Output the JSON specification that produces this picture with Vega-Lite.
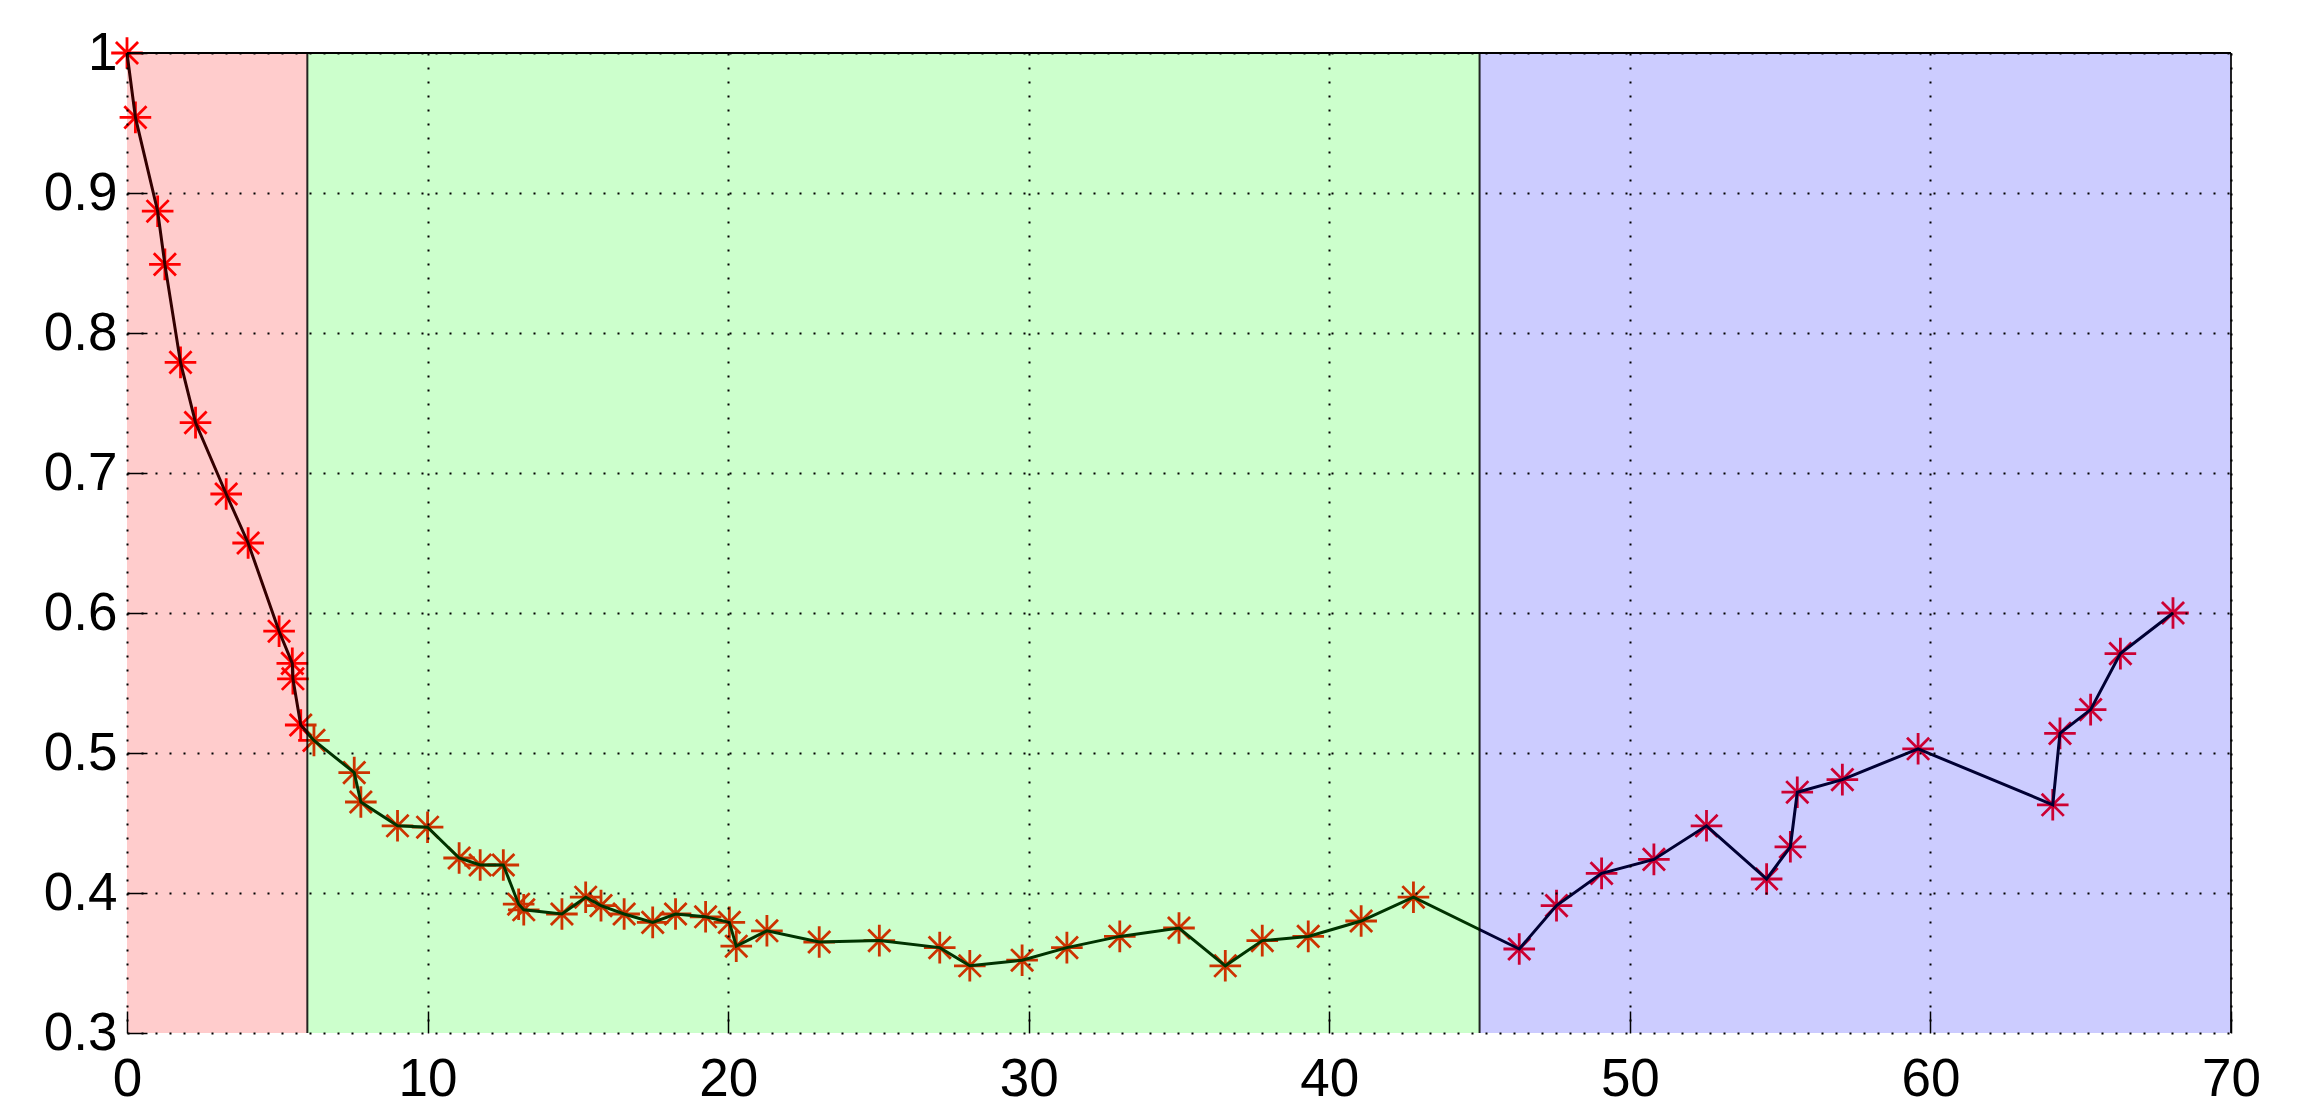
{
  "$schema": "https://vega.github.io/schema/vega-lite/v6.json",
  "width": 2104,
  "height": 980,
  "autosize": {"type": "none"},
  "padding": {"left": 127, "top": 53, "right": 93, "bottom": 75},
  "background": "white",
  "config": {"view": {"stroke": null}},
  "datasets": {
    "pts": [
      {"x": 0, "y": 1.0}, {"x": 0.28, "y": 0.954}, {"x": 1.02, "y": 0.887}, {"x": 1.26, "y": 0.849},
      {"x": 1.78, "y": 0.779}, {"x": 2.28, "y": 0.736}, {"x": 3.3, "y": 0.685}, {"x": 4.03, "y": 0.65},
      {"x": 5.06, "y": 0.587}, {"x": 5.5, "y": 0.564}, {"x": 5.52, "y": 0.553}, {"x": 5.78, "y": 0.52},
      {"x": 6.22, "y": 0.509}, {"x": 7.56, "y": 0.486}, {"x": 7.78, "y": 0.465}, {"x": 9.0, "y": 0.448},
      {"x": 10.0, "y": 0.447}, {"x": 11.05, "y": 0.425}, {"x": 11.75, "y": 0.42}, {"x": 12.52, "y": 0.42},
      {"x": 13.03, "y": 0.392}, {"x": 13.2, "y": 0.388}, {"x": 14.47, "y": 0.385}, {"x": 15.26, "y": 0.397},
      {"x": 15.77, "y": 0.391}, {"x": 16.54, "y": 0.385}, {"x": 17.49, "y": 0.379}, {"x": 18.25, "y": 0.385},
      {"x": 19.25, "y": 0.383}, {"x": 20.04, "y": 0.379}, {"x": 20.27, "y": 0.362}, {"x": 21.29, "y": 0.373},
      {"x": 23.03, "y": 0.365}, {"x": 25.03, "y": 0.366}, {"x": 27.04, "y": 0.361}, {"x": 28.04, "y": 0.348},
      {"x": 29.78, "y": 0.352}, {"x": 31.27, "y": 0.361}, {"x": 33.03, "y": 0.369}, {"x": 35.0, "y": 0.375},
      {"x": 36.54, "y": 0.348}, {"x": 37.77, "y": 0.366}, {"x": 39.3, "y": 0.369}, {"x": 41.06, "y": 0.38},
      {"x": 42.8, "y": 0.397}, {"x": 46.32, "y": 0.36}, {"x": 47.56, "y": 0.391}, {"x": 49.06, "y": 0.414},
      {"x": 50.8, "y": 0.424}, {"x": 52.55, "y": 0.448}, {"x": 54.55, "y": 0.41}, {"x": 55.34, "y": 0.433},
      {"x": 55.57, "y": 0.472}, {"x": 57.07, "y": 0.481}, {"x": 59.59, "y": 0.503}, {"x": 64.07, "y": 0.463},
      {"x": 64.31, "y": 0.514}, {"x": 65.33, "y": 0.531}, {"x": 66.32, "y": 0.571}, {"x": 68.07, "y": 0.6}
    ],
    "regions": [
      {"region": "a", "x0": 0, "x1": 6, "y0": 0.3, "y1": 1.0},
      {"region": "b", "x0": 6, "x1": 45, "y0": 0.3, "y1": 1.0},
      {"region": "c", "x0": 45, "x1": 70, "y0": 0.3, "y1": 1.0}
    ],
    "vrules": [{"x": 6}, {"x": 45}, {"x": 70}],
    "hrules": [{"y": 1.0}]
  },
  "layer": [
    {
      "data": {"name": "pts"},
      "mark": {
        "type": "point",
        "shape": "M-1,0L1,0M0,-1L0,1M-0.7,-0.7L0.7,0.7M-0.7,0.7L0.7,-0.7",
        "filled": false, "stroke": "#ff0000", "strokeWidth": 2.8, "opacity": 1, "size": 1000
      },
      "encoding": {
        "x": {
          "field": "x", "type": "quantitative",
          "scale": {"domain": [0, 70], "nice": false, "zero": false},
          "axis": {
            "values": [0, 10, 20, 30, 40, 50, 60, 70],
            "title": null, "domain": false, "grid": true,
            "gridColor": "black", "gridOpacity": 1, "gridDash": [2, 12], "gridWidth": 2,
            "tickColor": "black", "tickSize": -22, "tickWidth": 1.5,
            "labelFont": "Liberation Sans", "labelFontSize": 53, "labelColor": "black",
            "labelPadding": 42, "labelFlush": false, "labelOverlap": false, "zindex": 1
          }
        },
        "y": {
          "field": "y", "type": "quantitative",
          "scale": {"domain": [0.3, 1.0], "nice": false, "zero": false},
          "axis": {
            "values": [0.3, 0.4, 0.5, 0.6, 0.7, 0.8, 0.9, 1.0],
            "format": ".1~f",
            "title": null, "domain": false, "grid": true,
            "gridColor": "black", "gridOpacity": 1, "gridDash": [2, 12], "gridWidth": 2,
            "tickColor": "black", "tickSize": -20, "tickWidth": 1.5,
            "labelFont": "Liberation Sans", "labelFontSize": 53, "labelColor": "black",
            "labelPadding": 30, "labelFlush": false, "labelOverlap": false, "zindex": 1
          }
        }
      }
    },
    {
      "data": {"name": "pts"},
      "mark": {"type": "line", "color": "black", "strokeWidth": 3},
      "encoding": {
        "x": {"field": "x", "type": "quantitative"},
        "y": {"field": "y", "type": "quantitative"}
      }
    },
    {
      "data": {"name": "regions"},
      "mark": {"type": "rect", "fillOpacity": 0.2, "strokeWidth": 0},
      "encoding": {
        "x": {"field": "x0", "type": "quantitative"},
        "x2": {"field": "x1"},
        "y": {"field": "y0", "type": "quantitative"},
        "y2": {"field": "y1"},
        "fill": {
          "field": "region", "type": "nominal",
          "scale": {"domain": ["a", "b", "c"], "range": ["#ff0000", "#00ff00", "#0000ff"]},
          "legend": null
        }
      }
    },
    {
      "data": {"name": "vrules"},
      "mark": {"type": "rule", "color": "black", "strokeWidth": 2, "opacity": 0.85},
      "encoding": {"x": {"field": "x", "type": "quantitative"}}
    },
    {
      "data": {"name": "hrules"},
      "mark": {"type": "rule", "color": "black", "strokeWidth": 2},
      "encoding": {"y": {"field": "y", "type": "quantitative"}}
    }
  ]
}
